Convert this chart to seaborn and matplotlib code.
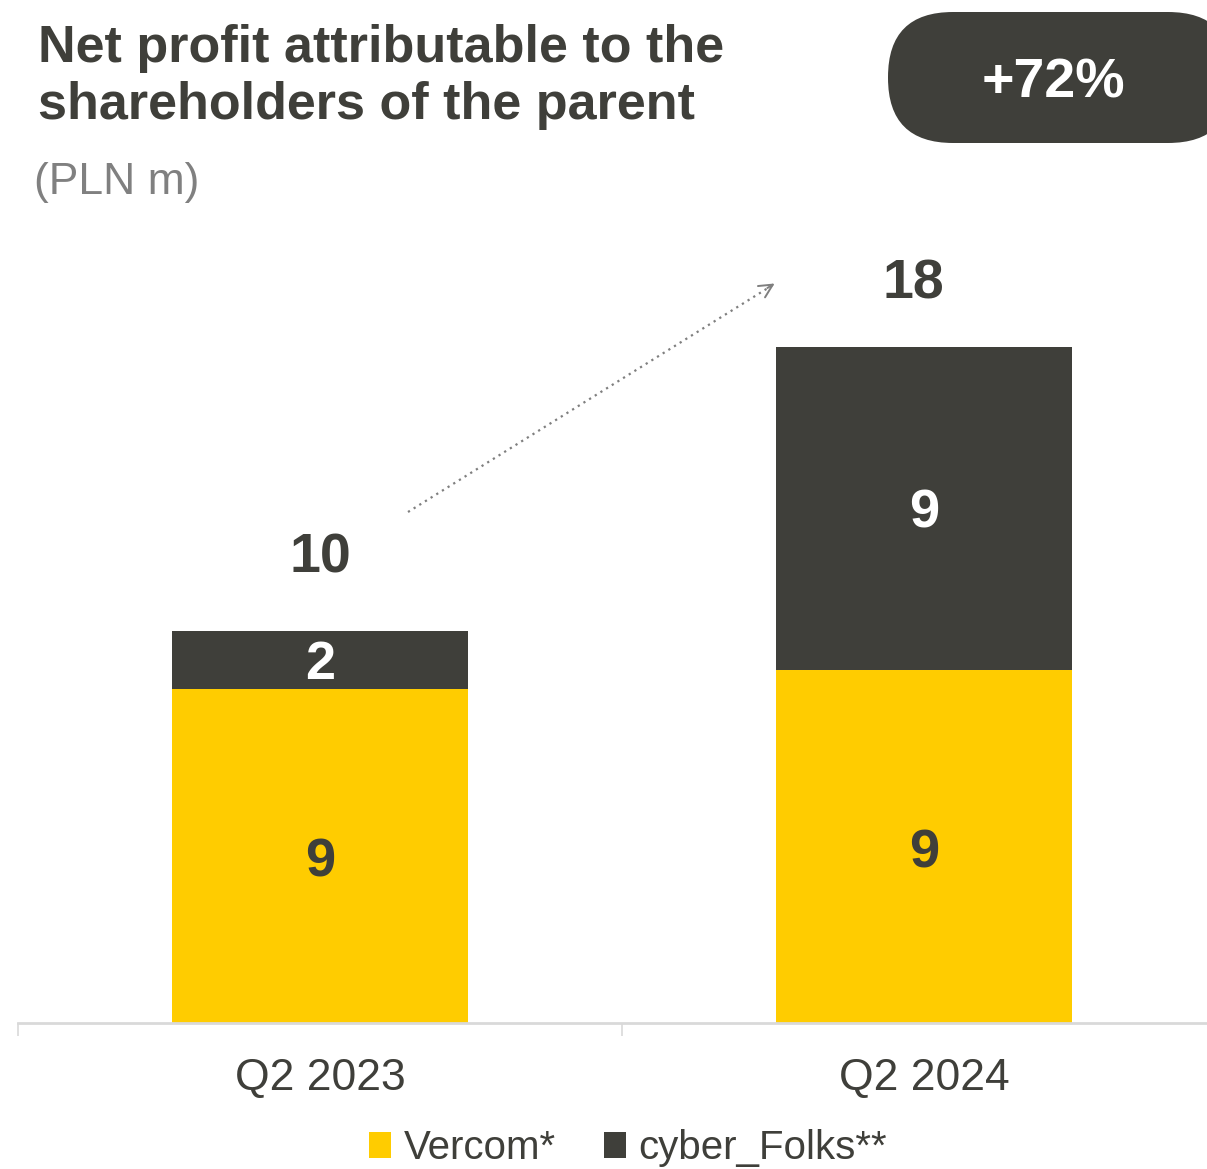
import matplotlib
matplotlib.use("Agg")
import matplotlib.pyplot as plt
from matplotlib.patches import FancyBboxPatch, Patch
import seaborn as sns
import pandas as pd

# Net profit attributable to the shareholders of the parent (PLN m)
quarters = ["Q2 2023", "Q2 2024"]
vercom = [8.9, 9.4]
cyber_folks = [1.55, 8.6]
series_names = ["Vercom*", "cyber_Folks**"]

YELLOW = "#FFCC00"
DARK = "#3F3F3A"
GREY_TXT = "#808080"
AXIS_GREY = "#D9D9D9"

sns.set_theme(style="white")
plt.rcParams["font.family"] = ["Liberation Sans Narrow", "Liberation Sans", "DejaVu Sans"]

df = pd.DataFrame({"quarter": quarters, "vercom": vercom, "cyber": cyber_folks})
df["total"] = df["vercom"] + df["cyber"]

W, H = 1207, 1169
fig = plt.figure(figsize=(W / 100, H / 100), dpi=100)
ax = fig.add_axes([18 / W, (H - 1023) / H, 1208 / W, 751 / H])

# stacked bars: total in dark, Vercom drawn over it from the baseline
sns.barplot(data=df, x="quarter", y="total", color=DARK, width=0.49,
            saturation=1, linewidth=0, ax=ax, zorder=2)
sns.barplot(data=df, x="quarter", y="vercom", color=YELLOW, width=0.49,
            saturation=1, linewidth=0, ax=ax, zorder=3)

ax.set_xlim(-0.5, 1.5)
ax.set_ylim(0, 20)
ax.set_xlabel("")
ax.set_ylabel("")
ax.set_yticks([])
for side in ["left", "right", "top"]:
    ax.spines[side].set_visible(False)
ax.spines["bottom"].set_color(AXIS_GREY)
ax.spines["bottom"].set_linewidth(2)
ax.spines["bottom"].set_zorder(4)
ax.tick_params(axis="x", which="major", bottom=True, length=0, pad=25,
               labelsize=32, labelcolor=DARK)
ax.set_xticks([-0.5, 0.5, 1.5], minor=True)
ax.tick_params(axis="x", which="minor", bottom=True, length=9.5, width=1.2,
               color=AXIS_GREY, direction="out")
ax.patch.set_alpha(0)

# segment labels
for i, row in df.iterrows():
    ax.annotate(f"{row['vercom']:.0f}", xy=(i, row["vercom"] / 2),
                xytext=(0, -5), textcoords="offset points", ha="center",
                va="center", fontsize=39, fontweight="bold", color=DARK,
                zorder=5)
    ax.annotate(f"{row['cyber']:.0f}", xy=(i, row["vercom"] + row["cyber"] / 2),
                xytext=(0, -3.5), textcoords="offset points", ha="center",
                va="center", fontsize=39, fontweight="bold", color="white",
                zorder=5)

# totals above the bars
total_offsets = [(0, 52), (-8, 45)]
for i, row in df.iterrows():
    ax.annotate(f"{row['total']:.0f}", xy=(i, row["total"]),
                xytext=total_offsets[i], textcoords="offset points",
                ha="center", va="center", fontsize=40, fontweight="bold",
                color=DARK)

# overlay in pixel coordinates for title, badge and trend arrow
ov = fig.add_axes([0, 0, 1, 1])
ov.set_xlim(0, W)
ov.set_ylim(H, 0)
ov.axis("off")

ov.text(38, 62, "Net profit attributable to the", fontsize=37.5,
        fontweight="bold", color=DARK, ha="left", va="baseline")
ov.text(38, 119, "shareholders of the parent", fontsize=37.5,
        fontweight="bold", color=DARK, ha="left", va="baseline")
ov.text(34, 194, "(PLN m)", fontsize=32, color=GREY_TXT, ha="left",
        va="baseline")

growth = df["total"].iloc[1] / df["total"].iloc[0] - 1
badge = FancyBboxPatch((888, 12), 345, 131,
                       boxstyle="round,pad=0,rounding_size=65",
                       facecolor=DARK, edgecolor="none")
ov.add_patch(badge)
ov.text(1053, 83, f"+{growth * 100:.0f}%", fontsize=40, fontweight="bold",
        color="white", ha="center", va="center")

# dotted trend arrow
ov.plot([408, 772], [512, 285.5], linestyle=(0, (1, 2)), color="#7F7F7F",
        linewidth=1.6)
ov.annotate("", xy=(777, 282), xytext=(765, 289.5),
            arrowprops=dict(arrowstyle="->,head_length=0.8,head_width=0.4",
                            color="#7F7F7F", lw=1.4))

handles = [Patch(facecolor=YELLOW, edgecolor="none"),
           Patch(facecolor=DARK, edgecolor="none")]
fig.legend(handles, series_names, loc="center",
           bbox_to_anchor=(628 / W, 1 - 1148 / H), ncol=2, frameon=False,
           fontsize=29, handlelength=0.55, handleheight=0.6,
           handletextpad=0.3, columnspacing=1.2, labelcolor=DARK)

fig.savefig("out.png", dpi=100)
